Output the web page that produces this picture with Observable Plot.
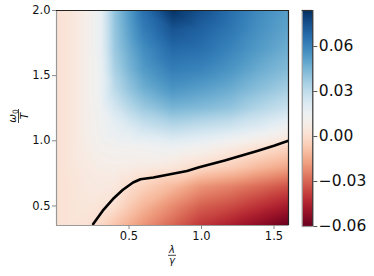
<!DOCTYPE html>
<html><head><meta charset="utf-8">
<script src="https://cdn.jsdelivr.net/npm/d3@7"></script>
<script src="https://cdn.jsdelivr.net/npm/@observablehq/plot@0.6"></script>
<style>
body{margin:0;background:#fff;}
#wrap{position:relative;width:374px;height:276px;font-family:"DejaVu Sans",sans-serif;}
#main{position:absolute;left:0;top:0;}
#cb{position:absolute;left:290px;top:0;}
</style></head><body><div id="wrap"><div id="main"></div><div id="cb"></div></div>
<script>
// grid columns (lambda/gamma) and rows (omega0/T)
const xs = [0, 0.1, 0.2, 0.3, 0.4, 0.5, 0.6, 0.8, 1.0, 1.2, 1.4, 1.6];
const ys = [2.0, 1.85, 1.7, 1.55, 1.4, 1.25, 1.1, 0.95, 0.8, 0.65, 0.5, 0.35];
const z = [
  [0.002, 0.004, 0.009, 0.016, 0.040, 0.053, 0.066, 0.083, 0.075, 0.067, 0.058, 0.052],
  [0.002, 0.004, 0.009, 0.016, 0.039, 0.051, 0.062, 0.074, 0.070, 0.064, 0.056, 0.050],
  [0.002, 0.004, 0.009, 0.016, 0.038, 0.048, 0.057, 0.068, 0.066, 0.060, 0.053, 0.047],
  [0.002, 0.004, 0.009, 0.015, 0.035, 0.045, 0.053, 0.062, 0.060, 0.055, 0.048, 0.043],
  [0.002, 0.004, 0.009, 0.015, 0.031, 0.040, 0.047, 0.055, 0.052, 0.048, 0.042, 0.036],
  [0.002, 0.004, 0.009, 0.014, 0.024, 0.032, 0.038, 0.045, 0.043, 0.040, 0.033, 0.027],
  [0.002, 0.004, 0.009, 0.013, 0.017, 0.021, 0.026, 0.031, 0.028, 0.025, 0.020, 0.013],
  [0.002, 0.004, 0.008, 0.011, 0.012, 0.012, 0.013, 0.015, 0.012, 0.007, 0.002, -0.003],
  [0.002, 0.004, 0.006, 0.008, 0.009, 0.008, 0.007, 0.004, -0.001, -0.005, -0.011, -0.016],
  [0.002, 0.003, 0.005, 0.006, 0.005, 0.000, -0.004, -0.011, -0.020, -0.024, -0.029, -0.034],
  [0.002, 0.003, 0.004, 0.003, 0.001, -0.006, -0.012, -0.022, -0.031, -0.035, -0.041, -0.047],
  [0.002, 0.003, 0.002, -0.002, -0.008, -0.014, -0.020, -0.030, -0.040, -0.046, -0.053, -0.060]
];
// zero contour line
const lineX = [0.253, 0.319, 0.389, 0.458, 0.528, 0.579, 0.668, 0.784, 0.900, 0.984, 1.16, 1.39, 1.50, 1.60];
const lineY = [0.362, 0.464, 0.553, 0.624, 0.680, 0.705, 0.718, 0.743, 0.768, 0.797, 0.848, 0.924, 0.962, 1.00];
const xTicks = [0.5, 1.0, 1.5];
const yTicks = [0.5, 1.0, 1.5, 2.0];
const cbTicks = [-0.06, -0.03, 0.00, 0.03, 0.06];
const vmin = -0.06, vmax = 0.084;
const xDomain = [0, 1.6], yDomain = [0.35, 2.0];

const grid = [];
ys.forEach((y, i) => xs.forEach((x, j) => grid.push({x, y, v: z[i][j]})));
const contour = lineX.map((x, i) => ({x, y: lineY[i]}));
const color = {type: "linear", scheme: "rdbu", domain: [vmin, vmax]};

const main = Plot.plot({
  width: 300, height: 276, marginLeft: 56, marginRight: 12, marginTop: 10, marginBottom: 51,
  style: {fontFamily: "DejaVu Sans", fontSize: "11.5px", color: "#111", background: "white"},
  x: {domain: xDomain, label: null},
  y: {domain: yDomain, label: null},
  color,
  marks: [
    Plot.raster(grid, {x: "x", y: "y", fill: "v", x1: xDomain[0], x2: xDomain[1], y1: yDomain[0], y2: yDomain[1], interpolate: "barycentric"}),
    Plot.line(contour, {x: "x", y: "y", stroke: "black", strokeWidth: 2.6, clip: true}),
    Plot.ruleX([xDomain[0]], {stroke: "#999", strokeWidth: 1.2}),
    Plot.ruleY([yDomain[0]], {stroke: "#999", strokeWidth: 1.2}),
    Plot.ruleX([xDomain[1]], {stroke: "#222", strokeWidth: 1.2}),
    Plot.ruleY([yDomain[1]], {stroke: "#222", strokeWidth: 1.2}),
    Plot.axisX({ticks: xTicks, tickFormat: d3.format(".1f"), tickSize: 4, tickPadding: 2, stroke: "#888", fill: "#111", label: null}),
    Plot.axisY({ticks: yTicks, tickFormat: d3.format(".1f"), tickSize: 4, tickPadding: 2, stroke: "#888", fill: "#111", label: null})
  ]
});
document.getElementById("main").appendChild(main);

// fraction axis labels
const svg = d3.select(main);
const gx = svg.append("g").attr("font-family", "DejaVu Sans").attr("font-style", "italic").attr("font-size", 10).attr("fill", "#111");
gx.append("text").attr("x", 172).attr("y", 252.8).attr("text-anchor", "middle").text("λ");
gx.append("line").attr("x1", 168).attr("x2", 176).attr("y1", 255.3).attr("y2", 255.3).attr("stroke", "#111").attr("stroke-width", 0.8);
gx.append("text").attr("x", 172).attr("y", 264).attr("text-anchor", "middle").text("γ");

const gy = svg.append("g").attr("transform", "translate(18.5,116) rotate(-90)")
  .attr("font-family", "DejaVu Sans").attr("font-style", "italic").attr("font-size", 10.5).attr("fill", "#111");
const num = gy.append("text").attr("x", 0).attr("y", -2.5).attr("text-anchor", "middle");
num.append("tspan").text("ω");
num.append("tspan").attr("font-size", 7.5).attr("font-style", "normal").attr("dy", 1.8).text("0");
gy.append("line").attr("x1", -7).attr("x2", 7).attr("y1", 0).attr("y2", 0).attr("stroke", "#111").attr("stroke-width", 0.8);
gy.append("text").attr("x", 0).attr("y", 9.2).attr("text-anchor", "middle").text("T");

// colorbar
const cb = Plot.plot({
  width: 84, height: 276, marginLeft: 11.7, marginRight: 61.7, marginTop: 10, marginBottom: 50,
  style: {fontFamily: "DejaVu Sans", fontSize: "15.5px", color: "#111", background: "transparent"},
  x: {domain: [0, 1], axis: null},
  y: {domain: [vmin, vmax], label: null},
  color,
  marks: [
    Plot.raster({fill: (x, y) => y, x1: 0, x2: 1, y1: vmin, y2: vmax}),
    Plot.ruleX([0], {stroke: "#999", strokeWidth: 1.2}),
    Plot.ruleY([vmin], {stroke: "#999", strokeWidth: 1.2}),
    Plot.ruleX([1], {stroke: "#333", strokeWidth: 1.2}),
    Plot.ruleY([vmax], {stroke: "#333", strokeWidth: 1.2}),
    Plot.axisY({anchor: "right", ticks: cbTicks, tickFormat: d3.format(".2f"), tickSize: 4, tickPadding: 2, stroke: "#555", fill: "#111", label: null})
  ]
});
document.getElementById("cb").appendChild(cb);
</script></body></html>
